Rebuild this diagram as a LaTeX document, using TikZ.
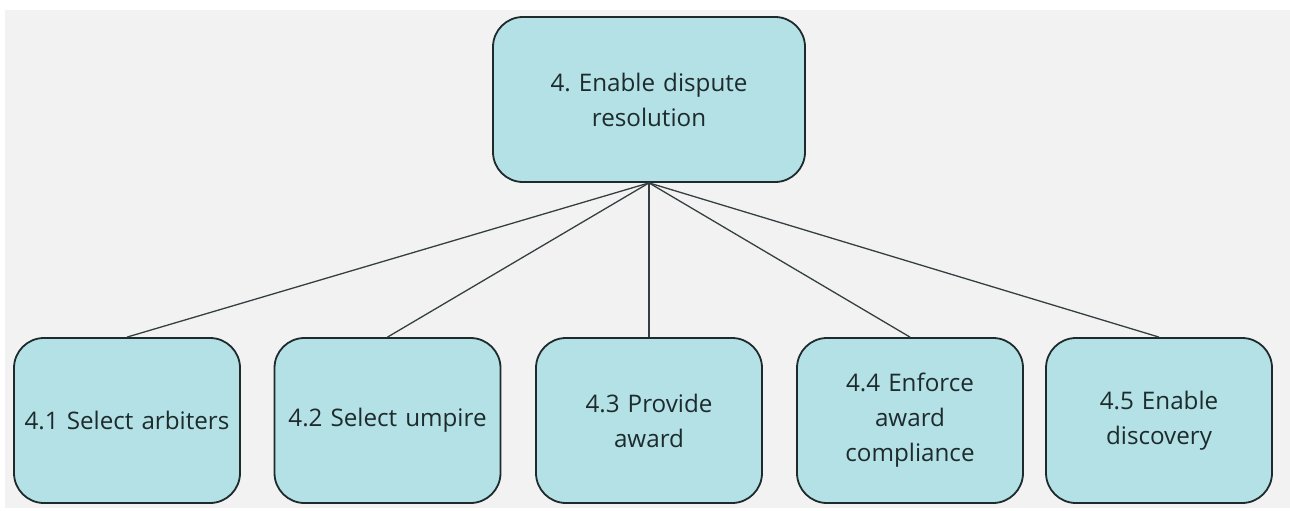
\documentclass[tikz,border=0pt]{standalone}
\usepackage{fontspec}
\setmainfont{Open Sans}
\frenchspacing
\begin{document}
\definecolor{panelgray}{HTML}{F2F2F2}
\definecolor{boxfill}{HTML}{B3E1E6}
\definecolor{boxline}{HTML}{1F2A2C}
\definecolor{txt}{HTML}{1E2B2D}
\begin{tikzpicture}[x=1pt,y=-1pt,
  task/.style={draw=boxline, line width=1.8pt, fill=boxfill, rounded corners=30pt,
    minimum width=226pt, minimum height=165pt, inner sep=0pt, align=center,
    text=txt, font=\fontsize{24.2}{35}\selectfont, text width=222pt},
  link/.style={draw=boxline!90, line width=1.3pt}]
  % page and panel
  \fill[white] (0,0) rectangle (1290,511);
  \useasboundingbox (0,0) rectangle (1290,511);
  \fill[panelgray] (5,10) rectangle (1290,508);
  % boxes
  \node[task, minimum width=312pt, text width=290pt] (root) at (649,99.5) {4. Enable dispute\\resolution};
  \node[task] (a) at (127,420.5) {4.1 Select arbiters};
  \node[task] (b) at (387.5,420.5) {4.2 Select umpire};
  \node[task] (c) at (649,420.5) {4.3 Provide\\award};
  \node[task] (d) at (910,420.5) {4.4 Enforce\\award\\compliance};
  \node[task] (e) at (1159,420.5) {4.5 Enable\\discovery};
  % connectors
  \foreach \n in {a,b,c,d,e}
    \draw[link] (root.south) -- (\n.north);
\end{tikzpicture}
\end{document}
